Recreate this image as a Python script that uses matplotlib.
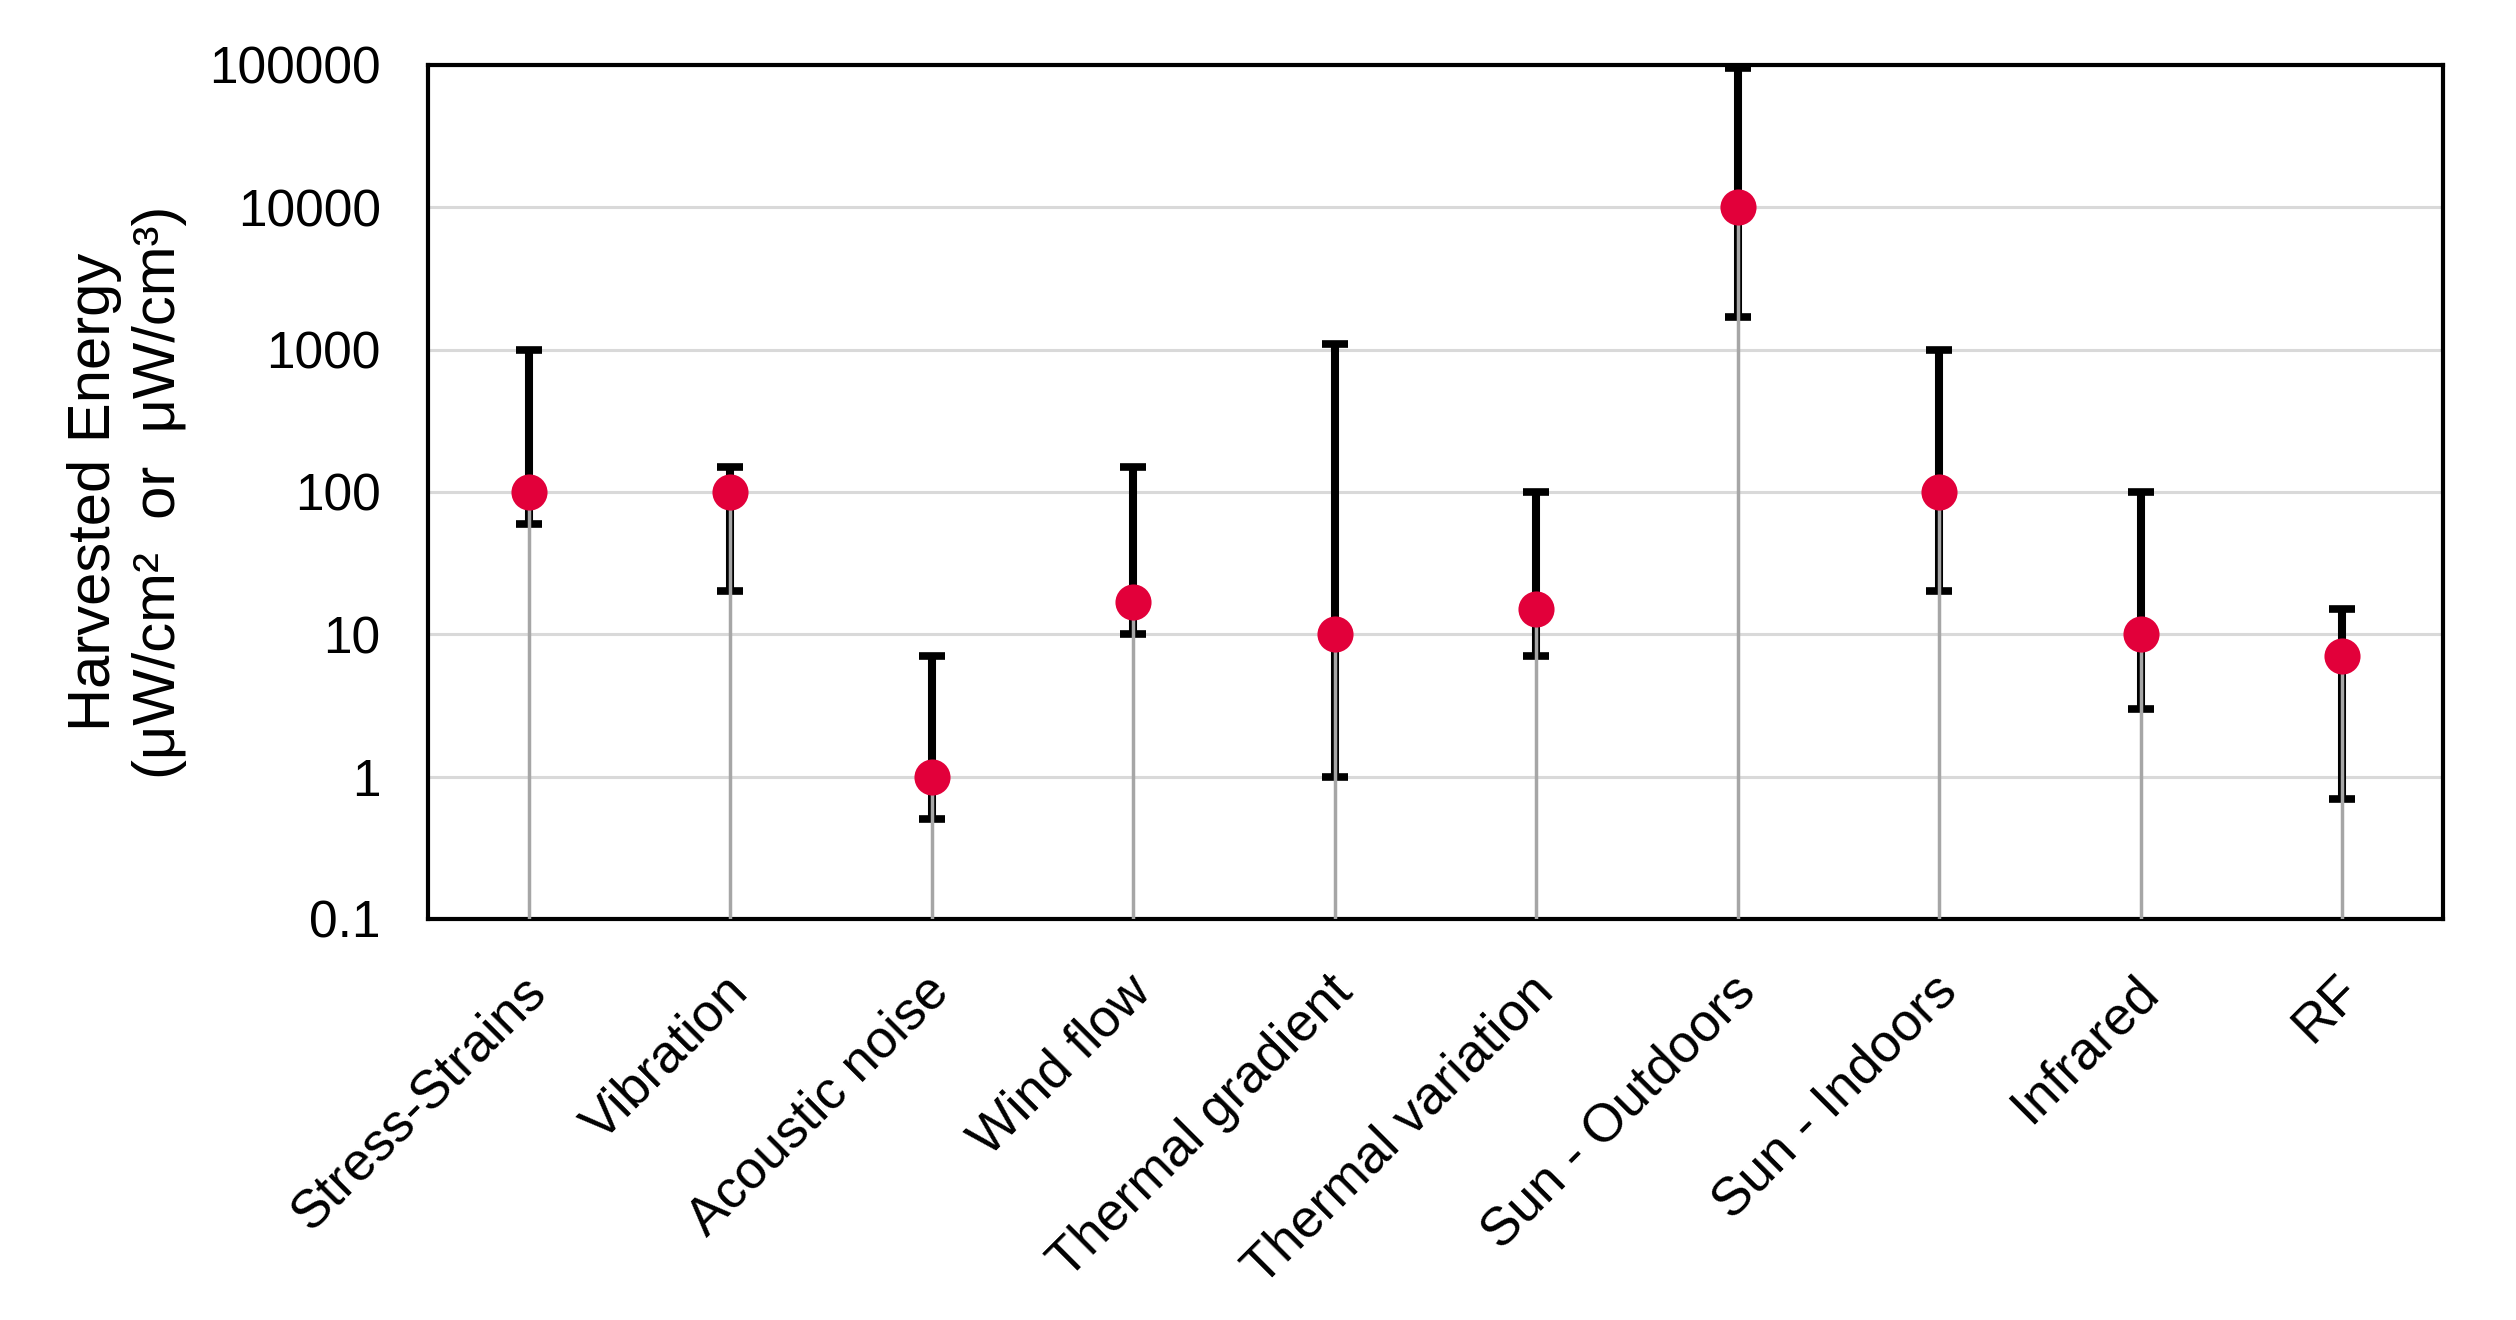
import matplotlib
matplotlib.use("Agg")
from matplotlib import pyplot as plt
from matplotlib.ticker import FixedLocator, FixedFormatter, NullLocator
import matplotlib.transforms as mtransforms
import numpy as np

plt.rcParams['font.family'] = ['Liberation Sans', 'DejaVu Sans']

# data (log scale)
sources = ['Stress-Strains', 'Vibration', 'Acoustic noise', 'Wind flow', 'Thermal gradient',
           'Thermal variation', 'Sun - Outdoors', 'Sun - Indoors', 'Infrared', 'RF']
typical = [100, 100, 1, 17, 10, 15, 10000, 100, 10, 7]
upper = [1000, 150, 7, 150, 1100, 100, 95000, 1000, 100, 15]
lower = [60, 20, 0.5, 10, 1, 7, 1700, 20, 3, 0.7]

y_ticks = [0.1, 1, 10, 100, 1000, 10000, 100000]
y_tick_labels = ['0.1', '1', '10', '100', '1000', '10000', '100000']

fig = plt.figure(figsize=(25.16, 13.2), dpi=100)
ax = fig.add_axes([0.1701, 0.3038, 0.8009, 0.6470])

x = np.arange(len(sources))
typ = np.array(typical, dtype=float)
err = np.array([typ - np.array(lower), np.array(upper) - typ])

# grid
ax.set_yscale('log')
ax.set_ylim(0.1, 100000)
ax.set_xlim(-0.5, len(sources) - 0.5)
ax.yaxis.set_major_locator(FixedLocator(y_ticks))
ax.yaxis.set_major_formatter(FixedFormatter(y_tick_labels))
ax.yaxis.set_minor_locator(NullLocator())
ax.grid(axis='y', color='#D9D9D9', linewidth=2.2, zorder=0)
ax.set_axisbelow(True)

# error bars (black)
ax.errorbar(x, typ, yerr=err, fmt='none', ecolor='black', elinewidth=5.8,
            capsize=9.7, capthick=5.5, zorder=2)

# drop lines from bottom up to the typical value
ax.vlines(x, 0.1, typ, colors='#A6A6A6', linewidth=2.5, zorder=3)

# markers
ax.plot(x, typ, 'o', color='#E2003A', markersize=26, markeredgewidth=0, zorder=4)

ax.set_xticks(x)
ax.set_xticklabels(sources, rotation=45, ha='right', va='top', rotation_mode='anchor',
                   fontsize=38.5)
ax.tick_params(axis='x', length=0, pad=34)
ax.tick_params(axis='y', length=0, pad=34, labelsize=37)

# nudge the rotated labels a bit to the left
shift = mtransforms.ScaledTranslation(-8 / 100, 0, fig.dpi_scale_trans)
for lbl in ax.get_xticklabels():
    lbl.set_transform(lbl.get_transform() + shift)

for s in ax.spines.values():
    s.set_linewidth(3)
    s.set_color('black')

fig.text(127 / 2516, 1 - 492 / 1320, 'Harvested Energy\n(μW/cm²  or  μW/cm³)',
         rotation=90, ha='center', va='center', multialignment='center',
         fontsize=43, linespacing=1.25)

fig.savefig('out.png', dpi=100)
